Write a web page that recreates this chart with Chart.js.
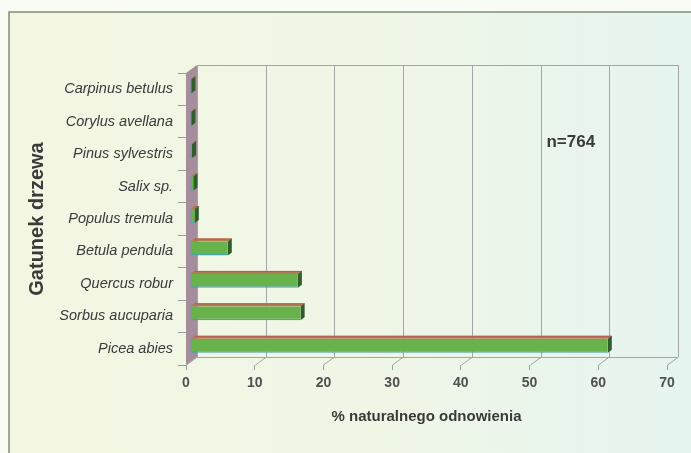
<!DOCTYPE html>
<html><head><meta charset="utf-8">
<script src="https://cdn.jsdelivr.net/npm/chart.js@4/dist/chart.umd.min.js"></script>
<style>html,body{margin:0;padding:0;background:#fff}#wrap{width:691px;height:453px;position:relative}</style>
</head><body><div id="wrap"><canvas id="c" width="691" height="453"></canvas></div>
<script>
const categories = ['Carpinus betulus','Corylus avellana','Pinus sylvestris','Salix sp.','Populus tremula','Betula pendula','Quercus robur','Sorbus aucuparia','Picea abies'];
const values = [0.2, 0.2, 0.3, 0.5, 0.7, 5.5, 15.7, 16.1, 60.8];
const xTickStep = 10;
const xMin = 0;
const xMax = 70;
const xTitle = '% naturalnego odnowienia';
const yTitle = 'Gatunek drzewa';
const sampleLabel = 'n=764';
const sampleLabelAt = [56, 1.65];

const DEPTH = {dx: 11, dy: -8};
const BAR = {ox: 4, oy: -3, dx: 4, dy: -3};
const FONT = '"Liberation Sans", Arial, sans-serif';

const threeD = {
  id: 'threeD',
  beforeDraw(chart) {
    const {ctx, width, height} = chart;
    ctx.save();
    ctx.fillStyle = '#f9fbf5'; ctx.fillRect(0, 0, width, height);
    const g = ctx.createLinearGradient(9, 0, width, 0);
    g.addColorStop(0, '#f3f6e3'); g.addColorStop(0.55, '#eff6e6'); g.addColorStop(1, '#e6f4f0');
    ctx.fillStyle = g; ctx.fillRect(9, 12, width - 9, height - 12);
    ctx.strokeStyle = '#7f8f76'; ctx.lineWidth = 1.5;
    ctx.beginPath(); ctx.moveTo(9, height); ctx.lineTo(9, 12); ctx.lineTo(width, 12); ctx.stroke();
    ctx.restore();
  },
  beforeDatasetsDraw(chart) {
    const {ctx, chartArea: {left, top, bottom}, scales: {x}} = chart;
    const {dx, dy} = DEPTH;
    ctx.save();
    ctx.fillStyle = '#a58d9c';
    ctx.beginPath(); ctx.moveTo(left, top); ctx.lineTo(left + dx, top + dy); ctx.lineTo(left + dx, bottom + dy); ctx.lineTo(left, bottom); ctx.closePath(); ctx.fill();
    ctx.strokeStyle = '#a3a6a6'; ctx.lineWidth = 1;
    x.ticks.forEach(t => {
      const px = Math.round(x.getPixelForValue(t.value)) + 0.5;
      ctx.beginPath(); ctx.moveTo(px + dx, top + dy); ctx.lineTo(px + dx, bottom + dy); ctx.lineTo(px, bottom); ctx.stroke();
    });
    const x0 = x.getPixelForValue(x.min) + dx, x1 = x.getPixelForValue(x.max) + dx;
    ctx.beginPath();
    ctx.moveTo(x0, top + dy + 0.5); ctx.lineTo(x1, top + dy + 0.5);
    ctx.moveTo(x0, bottom + dy + 0.5); ctx.lineTo(x1, bottom + dy + 0.5);
    ctx.stroke();
    ctx.restore();
  },
  beforeDatasetDraw(chart, args) {
    const {ctx} = chart;
    ctx.save();
    ctx.translate(BAR.ox, BAR.oy);
    args.meta.data.forEach(el => {
      const {x, y, base, height} = el.getProps(['x', 'y', 'base', 'height'], true);
      const t = y - height / 2, b = y + height / 2;
      ctx.fillStyle = '#b27b54';
      ctx.beginPath(); ctx.moveTo(base, t); ctx.lineTo(x, t); ctx.lineTo(x + BAR.dx, t + BAR.dy); ctx.lineTo(base + BAR.dx, t + BAR.dy); ctx.closePath(); ctx.fill();
      ctx.strokeStyle = '#b85a4a'; ctx.lineWidth = 1;
      ctx.beginPath(); ctx.moveTo(base + BAR.dx, t + BAR.dy + 0.5); ctx.lineTo(x + BAR.dx, t + BAR.dy + 0.5); ctx.stroke();
      ctx.fillStyle = '#2f5d2c';
      ctx.beginPath(); ctx.moveTo(x, t); ctx.lineTo(x + BAR.dx, t + BAR.dy); ctx.lineTo(x + BAR.dx, b + BAR.dy); ctx.lineTo(x, b); ctx.closePath(); ctx.fill();
    });
  },
  afterDatasetDraw(chart) { chart.ctx.restore(); },
  afterDraw(chart) {
    const {ctx, scales: {x, y}} = chart;
    ctx.save();
    ctx.font = 'bold 17px ' + FONT;
    ctx.fillStyle = '#3a3a3a';
    ctx.textAlign = 'center'; ctx.textBaseline = 'middle';
    ctx.fillText(sampleLabel, x.getPixelForValue(sampleLabelAt[0]), y.getPixelForValue(sampleLabelAt[1]));
    ctx.restore();
  }
};

new Chart(document.getElementById('c'), {
  type: 'bar',
  data: {
    labels: categories,
    datasets: [{
      data: values,
      backgroundColor: '#68b24c',
      borderColor: '#4aa3a8',
      borderWidth: {top: 0, right: 0, bottom: 1.5, left: 1},
      borderSkipped: false,
      barPercentage: 0.43,
      categoryPercentage: 1,
      clip: false
    }]
  },
  plugins: [threeD],
  options: {
    indexAxis: 'y',
    responsive: false,
    animation: false,
    devicePixelRatio: 1,
    layout: {padding: {top: 73, right: 24, bottom: 0, left: 0}},
    plugins: {legend: {display: false}, tooltip: {enabled: false}},
    scales: {
      x: {
        min: xMin, max: xMax,
        afterFit(s) { s.height = 88; },
        ticks: {stepSize: xTickStep, color: '#505050', font: {family: FONT, size: 14, weight: 'bold'}, padding: 5},
        grid: {drawOnChartArea: false, drawTicks: true, tickLength: 5, color: '#9a9d9d'},
        border: {display: false},
        title: {display: true, text: xTitle, color: '#3a3a3a', font: {family: FONT, size: 15, weight: 'bold'}, padding: {top: 0, bottom: 27}}
      },
      y: {
        afterFit(s) { s.width = 186; },
        ticks: {color: '#3a3a3a', font: {family: FONT, size: 14.5, style: 'italic'}, padding: 5},
        grid: {drawOnChartArea: false, drawTicks: true, tickLength: 8, color: '#9a9d9d'},
        border: {display: false},
        title: {display: true, text: yTitle, color: '#3a3a3a', font: {family: FONT, size: 20, weight: 'bold'}, padding: {top: 25, bottom: 0}}
      }
    }
  }
});
</script>
</body></html>
